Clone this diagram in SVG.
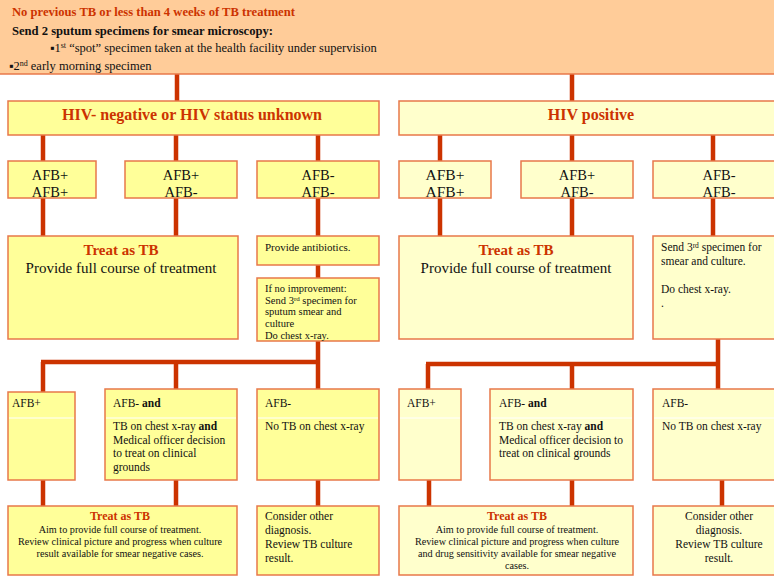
<svg xmlns="http://www.w3.org/2000/svg" width="774" height="576" viewBox="0 0 774 576">
<style>
.c{stroke:#CC3300;stroke-width:4.5;fill:none}
.bx{stroke:#E8784A;stroke-width:1.5}
.y{fill:#FFFF99}
.ly{fill:#FFFFCC}
.pe{fill:#FFCC99}
text{font-family:"Liberation Serif","Times New Roman",serif;fill:#111}
.r{fill:#CC3300;font-weight:bold}
.b{font-weight:bold}
.m{text-anchor:middle}
.s{font-size:11.5px}
.xs{font-size:10.2px}
.afb{font-size:14.5px}
.sep{stroke:#fff;stroke-width:1}
</style>
<rect x="0" y="0" width="774" height="576" fill="#fff"/>
<g id="connectors">
<path class="c" d="M177 74V101M572 74V101"/>
<path class="c" d="M43 135V161M176 135V161M318 135V161"/>
<path class="c" d="M440 135V161M572 135V161M713 135V161"/>
<path class="c" d="M43 198V236M176 198V236M318 198V236"/>
<path class="c" d="M440 198V236M572 198V236M713 198V236"/>
<path class="c" d="M318 265V278"/>
<path class="c" d="M318 341V362M41 362H320M43 362V392M176 362V389M318 362V389"/>
<path class="c" d="M718 339V364M426 364H720M428 364V392M572 364V389M718 364V389"/>
<path class="c" d="M43 480V506M176 480V506M318 480V506"/>
<path class="c" d="M429 480V506M572 480V506M722 480V506"/>
</g>
<g id="top">
<rect class="pe" x="0" y="0" width="774" height="74"/>
<line x1="0" y1="74" x2="774" y2="74" stroke="#E8784A" stroke-width="1.5"/>
<text class="r" x="12" y="16" font-size="12.6">No previous TB or less than 4 weeks of TB treatment</text>
<text class="b" x="12" y="35" font-size="12.6">Send 2 sputum specimens for smear microscopy:</text>
<text x="50" y="52" font-size="12.5">▪1<tspan font-size="8" dy="-4">st</tspan><tspan dy="4"> “spot” specimen taken at the health facility under supervision</tspan></text>
<text x="9" y="70" font-size="12.5">▪2<tspan font-size="8" dy="-4">nd</tspan><tspan dy="4"> early morning  specimen</tspan></text>
</g>
<g id="hivneg">
<rect class="bx y" x="8" y="101" width="371" height="34"/>
<text class="r m" x="192" y="120" font-size="16">HIV- negative or HIV status unknown</text>
</g>
<g id="hivpos">
<rect class="bx ly" x="399" y="101" width="390" height="34"/>
<text class="r m" x="591" y="120" font-size="16">HIV positive</text>
</g>
<g id="n_pp">
<rect class="bx y" x="8" y="161" width="88" height="37"/>
<text class="m afb" x="50" y="180">AFB+</text><text class="m afb" x="50" y="197">AFB+</text>
</g>
<g id="n_pm">
<rect class="bx y" x="125" y="161" width="112" height="37"/>
<text class="m afb" x="181" y="180">AFB+</text><text class="m afb" x="181" y="197">AFB-</text>
</g>
<g id="n_mm">
<rect class="bx y" x="257" y="161" width="122" height="37"/>
<text class="m afb" x="318" y="180">AFB-</text><text class="m afb" x="318" y="197">AFB-</text>
</g>
<g id="p_pp">
<rect class="bx ly" x="399" y="161" width="92" height="37"/>
<text class="m" x="445" y="180" font-size="15.5">AFB+</text><text class="m" x="445" y="197" font-size="15.5">AFB+</text>
</g>
<g id="p_pm">
<rect class="bx ly" x="521" y="161" width="112" height="37"/>
<text class="m afb" x="577" y="180">AFB+</text><text class="m afb" x="577" y="197">AFB-</text>
</g>
<g id="p_mm">
<rect class="bx ly" x="653" y="161" width="132" height="37"/>
<text class="m afb" x="719" y="180">AFB-</text><text class="m afb" x="719" y="197">AFB-</text>
</g>
<g id="n_treat">
<rect class="bx y" x="8" y="236" width="230" height="103"/>
<text class="r m" x="121" y="255" font-size="15">Treat as TB</text>
<text class="m" x="121" y="273" font-size="15">Provide full course of treatment</text>
</g>
<g id="n_antibiotics">
<rect class="bx y" x="257" y="236" width="122" height="29"/>
<text x="265" y="251" font-size="11">Provide antibiotics.</text>
</g>
<g id="n_noimprove">
<rect class="bx y" x="257" y="278" width="122" height="63"/>
<text x="265" y="292" font-size="10.5">If no improvement:</text>
<text x="265" y="304" font-size="10.5">Send 3<tspan font-size="7" dy="-3">rd</tspan><tspan dy="3"> specimen for</tspan></text>
<text x="265" y="315" font-size="10.5">sputum smear and</text>
<text x="265" y="327" font-size="10.5">culture</text>
<text x="265" y="339" font-size="10.5">Do chest x-ray.</text>
</g>
<g id="p_treat">
<rect class="bx ly" x="399" y="236" width="234" height="103"/>
<text class="r m" x="516" y="255" font-size="15">Treat as TB</text>
<text class="m" x="516" y="273" font-size="15">Provide full course of treatment</text>
</g>
<g id="p_send">
<rect class="bx ly" x="653" y="236" width="132" height="103"/>
<text x="661" y="251" font-size="11.5">Send 3<tspan font-size="7.5" dy="-3">rd</tspan><tspan dy="3"> specimen for</tspan></text>
<text x="661" y="265" font-size="11.5">smear and culture.</text>
<text x="661" y="293" font-size="11.5">Do chest x-ray.</text>
<text x="661" y="307" font-size="11.5">.</text>
</g>
<g id="n_afbp">
<rect class="bx y" x="8" y="392" width="67" height="88"/>
<line class="sep" x1="9" y1="418" x2="74" y2="418"/>
<text class="s" x="12" y="407">AFB+</text>
</g>
<g id="n_afbm_and">
<rect class="bx y" x="105" y="389" width="132" height="91"/>
<line class="sep" x1="106" y1="418" x2="236" y2="418"/>
<text class="s" x="113" y="407">AFB- <tspan class="b">and</tspan></text>
<text class="s" x="113" y="430">TB on chest x-ray <tspan class="b">and</tspan></text>
<text class="s" x="113" y="444">Medical officer decision</text>
<text class="s" x="113" y="457">to treat on clinical</text>
<text class="s" x="113" y="471">grounds</text>
</g>
<g id="n_afbm">
<rect class="bx y" x="257" y="389" width="122" height="91"/>
<line class="sep" x1="258" y1="418" x2="378" y2="418"/>
<text class="s" x="265" y="407">AFB-</text>
<text class="s" x="265" y="430">No TB on chest x-ray</text>
</g>
<g id="p_afbp">
<rect class="bx ly" x="399" y="389" width="62" height="91"/>
<line class="sep" x1="400" y1="418" x2="460" y2="418"/>
<text class="s" x="407" y="407">AFB+</text>
</g>
<g id="p_afbm_and">
<rect class="bx ly" x="490" y="389" width="143" height="91"/>
<line class="sep" x1="491" y1="418" x2="632" y2="418"/>
<text class="s" x="499" y="407">AFB- <tspan class="b">and</tspan></text>
<text class="s" x="499" y="430">TB on chest x-ray <tspan class="b">and</tspan></text>
<text class="s" x="499" y="444">Medical officer decision to</text>
<text class="s" x="499" y="457">treat on clinical grounds</text>
</g>
<g id="p_afbm">
<rect class="bx ly" x="653" y="389" width="132" height="91"/>
<line class="sep" x1="654" y1="418" x2="784" y2="418"/>
<text class="s" x="662" y="407">AFB-</text>
<text class="s" x="662" y="430">No TB on chest x-ray</text>
</g>
<g id="n_final_treat">
<rect class="bx y" x="8" y="506" width="229" height="69"/>
<text class="r m" x="120" y="520" font-size="12">Treat as TB</text>
<text class="m xs" x="120" y="533">Aim to provide full course of treatment.</text>
<text class="m xs" x="120" y="545">Review clinical picture and progress when culture</text>
<text class="m xs" x="120" y="557">result available  for smear negative cases.</text>
</g>
<g id="n_consider">
<rect class="bx y" x="257" y="506" width="122" height="69"/>
<text x="265" y="520" font-size="11.5">Consider other</text>
<text x="265" y="534" font-size="11.5">diagnosis.</text>
<text x="265" y="548" font-size="11.5">Review TB culture</text>
<text x="265" y="562" font-size="11.5">result.</text>
</g>
<g id="p_final_treat">
<rect class="bx ly" x="399" y="506" width="234" height="69"/>
<text class="r m" x="517" y="520" font-size="12">Treat as TB</text>
<text class="m xs" x="517" y="533">Aim to provide full course of treatment.</text>
<text class="m xs" x="517" y="545">Review clinical picture and progress when culture</text>
<text class="m xs" x="517" y="557">and drug sensitivity available  for smear negative</text>
<text class="m xs" x="517" y="569">cases.</text>
</g>
<g id="p_consider">
<rect class="bx ly" x="653" y="506" width="132" height="69"/>
<text class="m" x="719" y="520" font-size="11.5">Consider other</text>
<text class="m" x="719" y="534" font-size="11.5">diagnosis.</text>
<text class="m" x="719" y="548" font-size="11.5">Review TB culture</text>
<text class="m" x="719" y="562" font-size="11.5">result.</text>
</g>
</svg>
